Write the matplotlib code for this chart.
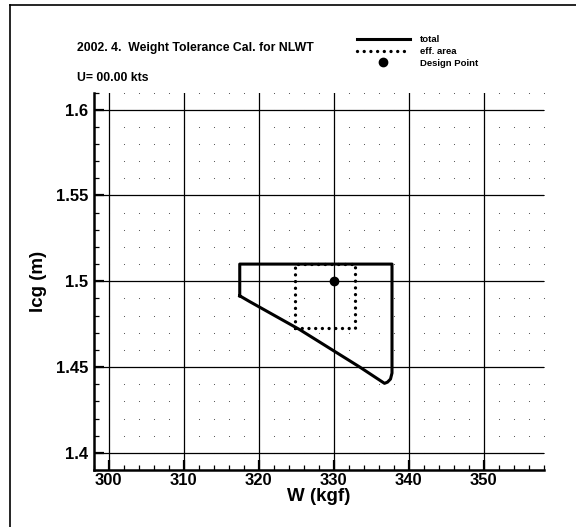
import numpy as np
import matplotlib.pyplot as plt
from matplotlib.lines import Line2D
from matplotlib.ticker import MultipleLocator

plt.rcParams['font.family'] = ['Liberation Sans', 'DejaVu Sans']
plt.rcParams['font.weight'] = 'bold'
plt.rcParams['axes.labelweight'] = 'bold'

# weight / lcg envelope (total), the effective area and the design point
w_total = [317.5, 317.5, 337.8, 337.8, 337.6, 337.2, 336.8, 333.5, 325.5, 318.8, 317.5]
lcg_total = [1.4915, 1.51, 1.51, 1.4465, 1.4430, 1.4412, 1.4405, 1.45, 1.4718, 1.4882, 1.4915]

w_eff = [324.9, 324.9, 332.8, 332.8, 324.9]
lcg_eff = [1.4727, 1.51, 1.51, 1.4727, 1.4727]

w_design = [330.0]
lcg_design = [1.5]

title = "2002. 4.  Weight Tolerance Cal. for NLWT"
speed = "U= 00.00 kts"

W, H = 576, 527
fig = plt.figure(figsize=(W / 100, H / 100), dpi=100)
ax = fig.add_axes([93.5 / W, 1 - 470 / H, 450 / W, 377.5 / H])

ax.set_xlim(298, 358)
ax.set_ylim(1.39, 1.61)
ax.xaxis.set_major_locator(MultipleLocator(10))
ax.xaxis.set_minor_locator(MultipleLocator(2))
ax.yaxis.set_major_locator(MultipleLocator(0.05))
ax.yaxis.set_minor_locator(MultipleLocator(0.01))
ax.yaxis.set_major_formatter(lambda v, p: f"{v:g}")

ax.grid(which='major', color='black', linewidth=0.9)
# sparse dot lattice at the minor positions
mx = np.arange(298, 358.01, 2)
my = np.arange(1.39, 1.6101, 0.01)
gx, gy = np.meshgrid(mx, my)
ax.scatter(gx.ravel(), gy.ravel(), s=0.6, color='#444444', linewidths=0, zorder=1)

for side in ('top', 'right'):
    ax.spines[side].set_visible(False)
for side in ('left', 'bottom'):
    ax.spines[side].set_linewidth(1.8)

ax.tick_params(which='major', direction='in', length=7, width=1.6,
               labelsize=12, pad=4)
ax.tick_params(which='minor', direction='in', length=3.5, width=0.9)
ax.tick_params(axis='x', which='major', pad=2)

ax.plot(w_total, lcg_total, color='black', linewidth=2.2,
        solid_joinstyle='round', label='total', zorder=3)
ax.plot(w_eff, lcg_eff, color='black', linewidth=2.4, linestyle=(0, (0.01, 2.0)),
        dash_capstyle='round', label='eff. area', zorder=3)
ax.plot(w_design, lcg_design, linestyle='none', marker='o', markersize=6,
        color='black', label='Design Point', zorder=4)

ax.set_xlabel('W (kgf)', fontsize=13.5, labelpad=0)
ax.set_ylabel('lcg (m)', fontsize=13.5, labelpad=6)

fig.text(77 / W, 1 - 48 / H, title, fontsize=8.8, va='center', ha='left')
fig.text(77 / W, 1 - 78 / H, speed, fontsize=8.8, va='center', ha='left')

fig.legend(loc='upper left', bbox_to_anchor=(357 / W, 1 - 35 / H),
           frameon=False, fontsize=6.8, handlelength=5.6, handletextpad=1.1,
           labelspacing=0.3, borderpad=0, borderaxespad=0)

# page frame
fig.add_artist(Line2D([10 / W, 10 / W], [0, 1 - 5 / H], color='black',
                      linewidth=1.2, transform=fig.transFigure))
fig.add_artist(Line2D([10 / W, 1], [1 - 5 / H, 1 - 5 / H], color='black',
                      linewidth=1.2, transform=fig.transFigure))

fig.savefig('out.png', dpi=100)
